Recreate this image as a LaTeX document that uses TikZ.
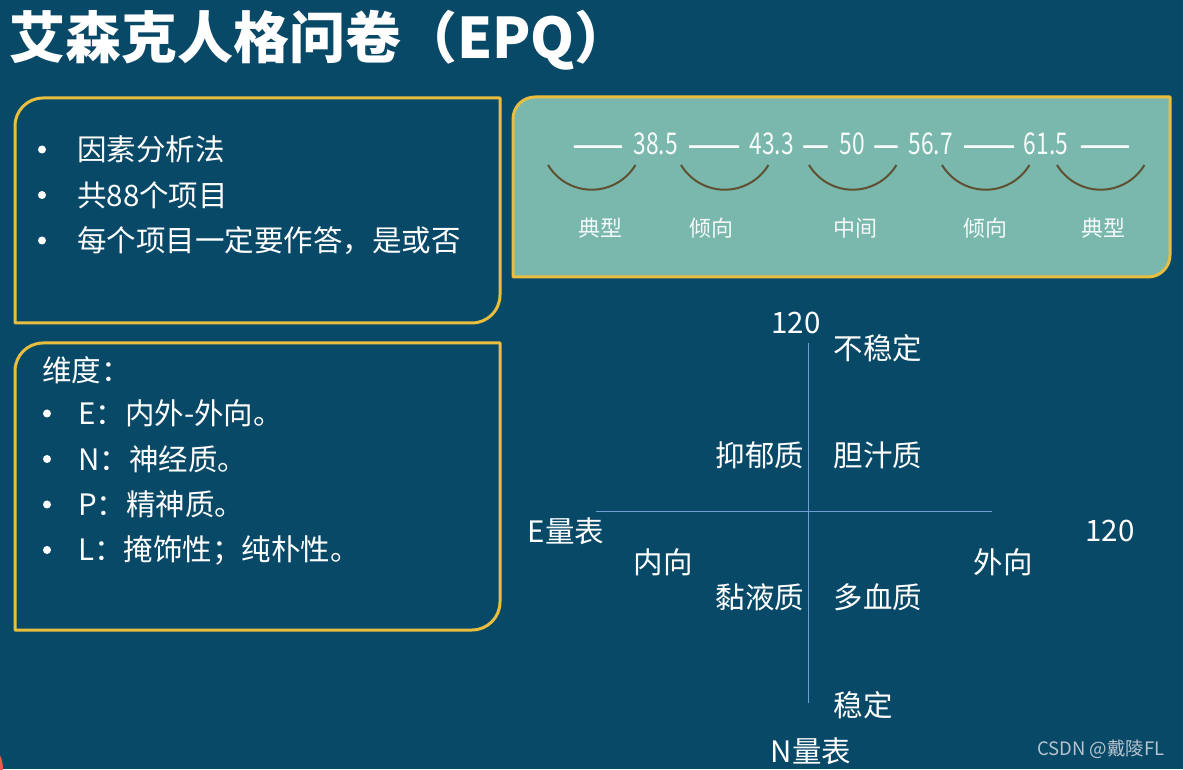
\documentclass[tikz,border=0pt]{standalone}
\usepackage{fontspec}
\setmainfont{Noto Sans CJK SC}
\newfontfamily\narrowfont[FakeStretch=0.76]{Noto Sans CJK SC}
\newfontfamily\dashfont[FakeStretch=0.76,FakeBold=2]{Noto Sans CJK SC}
\usetikzlibrary{positioning}
\definecolor{slide}{RGB}{9,73,104}
\definecolor{gold}{RGB}{233,190,62}
\definecolor{sea}{RGB}{122,184,174}
\definecolor{axisblue}{RGB}{110,160,215}
\definecolor{brow}{RGB}{96,80,50}
\definecolor{mark}{RGB}{185,195,205}
\definecolor{coral}{RGB}{232,92,72}
\tikzset{
  frame/.style={draw=gold,line width=3pt,line join=round},
  lbl/.style={text=white,font=\fontsize{29.5}{34}\selectfont,inner sep=0pt},
  item/.style={lbl,anchor=west},
  dot/.style={circle,fill=white,inner sep=0pt,minimum size=8pt},
  num/.style={text=white!94!sea,font=\narrowfont\fontsize{30}{34}\selectfont,inner sep=0pt,anchor=base},
  scl/.style={text=white!92!sea,font=\fontsize{22}{26}\selectfont,inner sep=0pt},
  smile/.style={draw=brow,line width=2pt},
  ax/.style={draw=axisblue,line width=0.9pt},
}
% box with two rounded corners (top left, bottom right)
\newcommand\cutbox[6][]{%
  \draw[frame,#1] (#2,#5) -- (#2,#3-#6) arc[start angle=180,end angle=90,radius=#6]
    -- (#4,#3) -- (#4,#5+#6) arc[start angle=0,end angle=-90,radius=#6] -- cycle;}
\newcommand\dashrun[1]{{\dashfont\resizebox{#1pt}{\height}{——}}}

\begin{document}
\begin{tikzpicture}[x=1pt,y=1pt]
\fill[slide] (0,0) rectangle (1183,769);
\useasboundingbox (0,0) rectangle (1183,769);
\fill[coral] (-8,0) ellipse[x radius=11,y radius=20];
% title
\node[anchor=west,inner sep=0pt,text=white,font=\fontsize{56}{64}\selectfont\bfseries]
  (title) at (9,729) {艾森克人格问卷（EPQ）};
% left boxes
\cutbox{15}{671}{500}{446}{28}
\cutbox{15}{426}{500}{139}{28}
\foreach \txt [count=\i] in {因素分析法,共88个项目,每个项目一定要作答，是或否}{
  \node[dot] (b\i) at (42,665-45.5*\i) {};
  \node[item] (t\i) at (77,665-45.5*\i) {\txt};
}
\node[item] (dim) at (42,399) {维度：};
\foreach \txt [count=\i] in {E：内外-外向。,N：神经质。,P：精神质。,L：掩饰性；纯朴性。}{
  \node[dot] (d\i) at (47,401-45.5*\i) {};
  \node[item] (e\i) at (78,401-45.5*\i) {\txt};
}
% scale strip
\cutbox[fill=sea]{513}{672}{1170}{492}{22}
\node[num] (r1) at (598,614) {\dashrun{50}};
\node[num] (v1) at (655.5,614) {38.5};
\node[num] (r2) at (714,614) {\dashrun{52}};
\node[num] (v2) at (771.5,614) {43.3};
\node[num] (r3) at (815.5,614) {\dashrun{25}};
\node[num] (v3) at (852,614) {50};
\node[num] (r4) at (886,614) {\dashrun{24}};
\node[num] (v4) at (930.5,614) {56.7};
\node[num] (r5) at (989,614) {\dashrun{52}};
\node[num] (v5) at (1046,614) {61.5};
\node[num] (r6) at (1105,614) {\dashrun{50}};
\foreach \cx in {592,725,853,986,1101}
  \draw[smile] (\cx-44,604) arc[start angle=211,end angle=329,radius=51];
\node[scl] (s1) at (600,541) {典型};
\node[scl] (s2) at (711,541) {倾向};
\node[scl] (s3) at (855,541) {中间};
\node[scl] (s4) at (985,541) {倾向};
\node[scl] (s5) at (1103,541) {典型};
% axes
\coordinate (ntop) at (808,426);
\coordinate (nbot) at (808,66);
\coordinate (ewest) at (596,258);
\coordinate (eeast) at (992,258);
\draw[ax] (ntop) -- (nbot);
\draw[ax] (ewest) -- (eeast);
\node[lbl] (nmax) at (796,446) {120};
\node[lbl] (unst) at (878,421) {不稳定};
\node[lbl] (mel) at (760,314) {抑郁质};
\node[lbl] (cho) at (878,314) {胆汁质};
\node[lbl] (escale) at (566,238) {E量表};
\node[lbl] (emax) at (1110,238) {120};
\node[lbl] (intro) at (663,207) {内向};
\node[lbl] (extro) at (1003,207) {外向};
\node[lbl] (phl) at (760,172) {黏液质};
\node[lbl] (san) at (878,172) {多血质};
\node[lbl] (stab) at (863,64) {稳定};
\node[lbl] (nscale) at (811,18) {N量表};
\node[inner sep=0pt,text=mark,font=\fontsize{18.5}{22}\selectfont] (wm) at (1101,20) {CSDN @戴陵FL};
\end{tikzpicture}
\end{document}
